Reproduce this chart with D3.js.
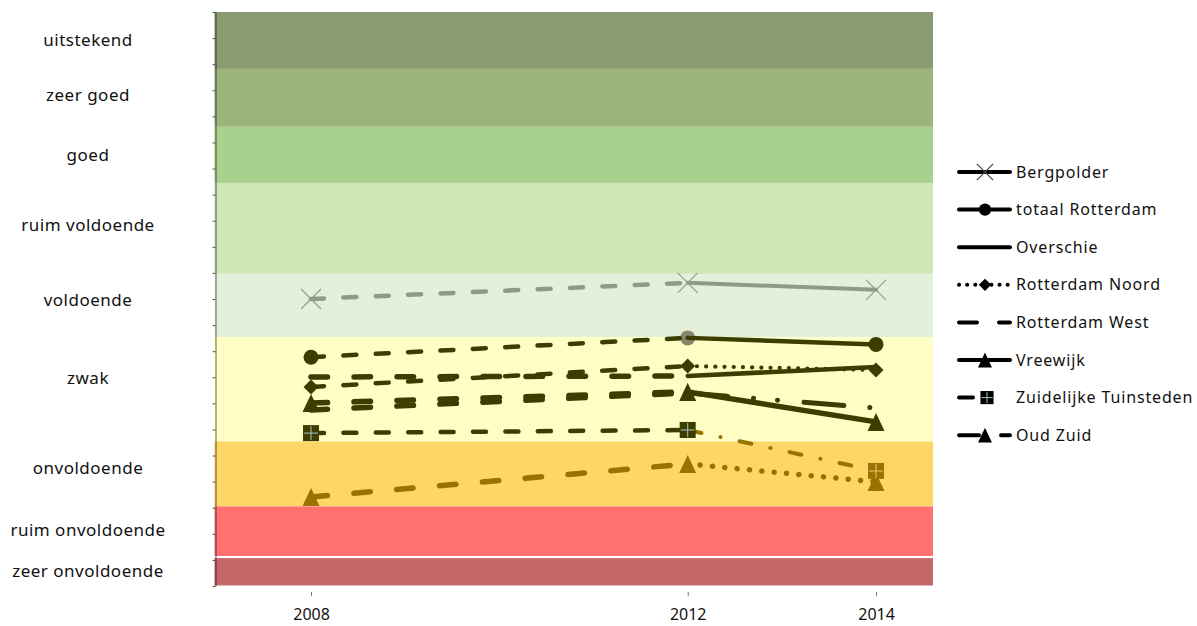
<!DOCTYPE html>
<html><head><meta charset="utf-8">
<script src="https://cdnjs.cloudflare.com/ajax/libs/d3/7.8.5/d3.min.js"></script>
<style>body{margin:0;background:#fff;} svg{display:block;}</style>
</head><body><svg id="chart" width="1197" height="626"></svg>
<script>
// ---------- data ----------
const years = [2008, 2012, 2014];
const seriesNames = ["Bergpolder","totaal Rotterdam","Overschie","Rotterdam Noord","Rotterdam West","Vreewijk","Zuidelijke Tuinsteden","Oud Zuid"];
const bergpolder = [11.00, 11.62, 11.35];
const totaalRotterdam = [8.77, 9.51, 9.26];
const overschie = [8.01, 8.05, 8.39];
const rotterdamNoord = [7.63, 8.43, 8.28];
const rotterdamWest = [6.75, 7.40, 6.82];
const vreewijk = [7.01, 7.44, 6.29];
const zuidelijkeTuinsteden = [5.86, 5.98, 4.41];
const oudZuid = [3.41, 4.68, 3.99];

const bandLabels = ["uitstekend","zeer goed","goed","ruim voldoende","voldoende","zwak","onvoldoende","ruim onvoldoende","zeer onvoldoende"];
const bandLow  = [19.82, 17.60, 15.45, 11.96, 9.54, 5.54, 3.05, 1.15, 0.02];
const bandHigh = [22.00, 19.82, 17.60, 15.45, 11.96, 9.54, 5.54, 3.05, 1.07];
const bandLabelPos = [20.93, 18.82, 16.52, 13.84, 10.96, 7.97, 4.52, 2.15, 0.57];
const yearTicks = [2008, 2012, 2014];
const valueTicks = d3.range(0, 23, 1);

// ---------- styles ----------
const DARK = "#3e3d00", GOLD = "#9a7200", GRAY = "#8d9c85", GRAYMK = "#8e9e8e", GRAYC = "#86866a";
const bandColors = ["#8a9b72","#9bb47b","#a9d18e","#d0e8b8","#e3f1da","#ffffc5","#fed665","#ff7171","#c46767"];
const dashStyles = {
  short:  {dash:"13 19.4", w:4.5},
  long:   {dash:"16.5 26.5", w:5.5},
  solid:  {dash:null, w:4.5},
  solidThin: {dash:null, w:4},
  solidThick: {dash:null, w:5.5},
  dotNoord: {dash:"0.1 9.1", w:4.2},
  dotOud: {dash:"0.1 12.3", w:5.5},
  westDD: {dash:"40 26 0.1 24 0.1 26.5", w:5},
  zuidDD: {dash:"12 19.5 0.1 19.5", w:4, off:-2}
};
const styles = {
  "Bergpolder":            {values:bergpolder, marker:"x", mColors:[GRAYMK,GRAYMK,GRAYMK], seg:["short","solidThin"], sColors:[GRAY,GRAY]},
  "totaal Rotterdam":      {values:totaalRotterdam, marker:"circle", mColors:[DARK,GRAYC,DARK], seg:["short","solid"], sColors:[DARK,DARK], behind:[false,true,false]},
  "Overschie":             {values:overschie, marker:null, seg:["long","solid"], sColors:[DARK,DARK]},
  "Rotterdam Noord":       {values:rotterdamNoord, marker:"diamond", mColors:[DARK,DARK,DARK], seg:["short","dotNoord"], sColors:[DARK,DARK]},
  "Rotterdam West":        {values:rotterdamWest, marker:null, seg:["long","westDD"], sColors:[DARK,DARK]},
  "Vreewijk":              {values:vreewijk, marker:"triangle", mColors:[DARK,DARK,DARK], seg:["long","solidThick"], sColors:[DARK,DARK]},
  "Zuidelijke Tuinsteden": {values:zuidelijkeTuinsteden, marker:"square", mColors:[DARK,DARK,GOLD], seg:["short","zuidDD"], sColors:[DARK,GOLD]},
  "Oud Zuid":              {values:oudZuid, marker:"triangle", mColors:[GOLD,GOLD,GOLD], seg:["long","dotOud"], sColors:[GOLD,GOLD]}
};
const markerOrder = ["Bergpolder","totaal Rotterdam","Rotterdam Noord","Vreewijk","Oud Zuid","Zuidelijke Tuinsteden"];

// ---------- scales ----------
const svg = d3.select("#chart");
const xDomain = [2006.975, 2014.605];
const x = d3.scaleLinear().domain(xDomain).range([214.5, 933]);
const y = d3.scaleLinear().domain([0, 22]).range([586, 12]);

// bands
const bands = bandLabels.map((l,i)=>({label:l, lo:bandLow[i], hi:bandHigh[i], pos:bandLabelPos[i], color:bandColors[i]}));
svg.append("g").selectAll("rect").data(bands).join("rect")
  .attr("x", x(xDomain[0])).attr("width", x(xDomain[1])-x(xDomain[0]))
  .attr("y", d=>y(d.hi)).attr("height", d=>y(d.lo)-y(d.hi))
  .attr("fill", d=>d.color);

// band labels
svg.append("g").selectAll("text").data(bands).join("text")
  .attr("x", 88).attr("y", d=>y(d.pos)).attr("dy","0.35em")
  .attr("text-anchor","middle")
  .style("font-family","'Noto Sans', sans-serif").style("font-size","17px")
  .style("letter-spacing","0.5px").attr("fill","#111")
  .text(d=>d.label);

// left value axis (ticks without labels)
const yAxis = svg.append("g").attr("transform",`translate(${x(xDomain[0])+1},0)`)
  .call(d3.axisLeft(y).tickValues(valueTicks).tickSize(3).tickSizeOuter(0).tickFormat(""));
yAxis.select(".domain").attr("stroke","#000").attr("stroke-opacity",0.3).attr("stroke-width",2);
yAxis.selectAll(".tick line").attr("stroke","#555").attr("stroke-width",1);

// bottom axis
const xAxis = svg.append("g").attr("transform",`translate(0,${y(0)+6})`)
  .call(d3.axisBottom(x).tickValues(yearTicks).tickSize(4).tickFormat(d3.format("d")));
xAxis.select(".domain").remove();
xAxis.selectAll(".tick line").attr("stroke","#777");
xAxis.selectAll(".tick text").attr("y", 17).attr("dy","0.71em")
  .style("font-family","'Noto Sans', sans-serif").style("font-size","16px").attr("fill","#111");

// ---------- marker helpers ----------
function markerPath(type, s) {
  const p = d3.path();
  if (type==="x") { const h=s/2; p.moveTo(-h,-h); p.lineTo(h,h); p.moveTo(h,-h); p.lineTo(-h,h); }
  else if (type==="diamond") { const h=s/2; p.moveTo(0,-h); p.lineTo(h,0); p.lineTo(0,h); p.lineTo(-h,0); p.closePath(); }
  else if (type==="triangle") { const w=s/2, h=s*0.53; p.moveTo(0,-h); p.lineTo(w,h); p.lineTo(-w,h); p.closePath(); }
  return p.toString();
}
function drawMarker(g, type, cx, cy, color, legend) {
  const k = legend ? 0.82 : 1;
  if (type==="circle") g.append("circle").attr("cx",cx).attr("cy",cy).attr("r",7.5*k).attr("fill",color);
  else if (type==="x") g.append("path").attr("transform",`translate(${cx},${cy})`).attr("d",markerPath("x",20*k))
        .attr("stroke",legend?"#444":color).attr("stroke-width",1.2).attr("fill","none");
  else if (type==="diamond") g.append("path").attr("transform",`translate(${cx},${cy})`).attr("d",markerPath("diamond",15*k)).attr("fill",color);
  else if (type==="triangle") g.append("path").attr("transform",`translate(${cx},${cy})`).attr("d",markerPath("triangle",17*k)).attr("fill",color);
  else if (type==="square") {
    const s=16*k;
    g.append("rect").attr("x",cx-s/2).attr("y",cy-s/2).attr("width",s).attr("height",s).attr("fill",color);
    const lc = color===GOLD ? "#e8c870" : "#9fc3c8";
    g.append("path").attr("d",`M${cx},${cy-s/2+1}V${cy+s/2-1}M${cx-s/2+1},${cy}H${cx+s/2-1}`).attr("stroke",lc).attr("stroke-width",1);
  }
}

// ---------- series ----------
const series = seriesNames.map(n=>({name:n, ...styles[n], pts: years.map((yr,i)=>({year:yr, v:styles[n].values[i]}))}));
const gBehind = svg.append("g");
const gLines = svg.append("g");
const gMarks = svg.append("g");
const line = d3.line().x(d=>x(d.year)).y(d=>y(d.v));

series.forEach(s=>{
  for (let i=0;i<2;i++){
    const st = dashStyles[s.seg[i]];
    const p = gLines.append("path").attr("d", line([s.pts[i], s.pts[i+1]]))
      .attr("fill","none").attr("stroke", s.sColors[i]).attr("stroke-width", st.w)
      .attr("stroke-linecap","round");
    if (st.dash) p.attr("stroke-dasharray", st.dash);
    if (st.off) p.attr("stroke-dashoffset", st.off);
  }
});
markerOrder.forEach(n=>{
  const s = series.find(d=>d.name===n);
  s.pts.forEach((pt,i)=>{
    const g = (s.behind && s.behind[i]) ? gBehind : gMarks;
    drawMarker(g, s.marker, x(pt.year), y(pt.v), s.mColors[i], false);
  });
});

// ---------- legend ----------
const legendDash = {
  "Bergpolder": null, "totaal Rotterdam": null, "Overschie": null,
  "Rotterdam Noord": "0.1 8", "Rotterdam West": "18 22", "Vreewijk": null,
  "Zuidelijke Tuinsteden": "14 60", "Oud Zuid": "20 22"
};
const lg = svg.append("g");
seriesNames.forEach((n,i)=>{
  const s = styles[n];
  const ry = 172 + i*37.6;
  const l = lg.append("line").attr("x1",959).attr("x2",1010).attr("y1",ry).attr("y2",ry)
    .attr("stroke","#000").attr("stroke-width",4).attr("stroke-linecap","round");
  if (legendDash[n]) l.attr("stroke-dasharray", legendDash[n]);
  if (s.marker) drawMarker(lg, s.marker, n==="Zuidelijke Tuinsteden"?987:985, ry, "#000", true);
  lg.append("text").attr("x",1016).attr("y",ry).attr("dy","0.35em")
    .style("font-family","'Noto Sans', sans-serif").style("font-size","16px")
    .style("letter-spacing","0.85px").attr("fill","#111").text(n);
});
</script></body></html>
